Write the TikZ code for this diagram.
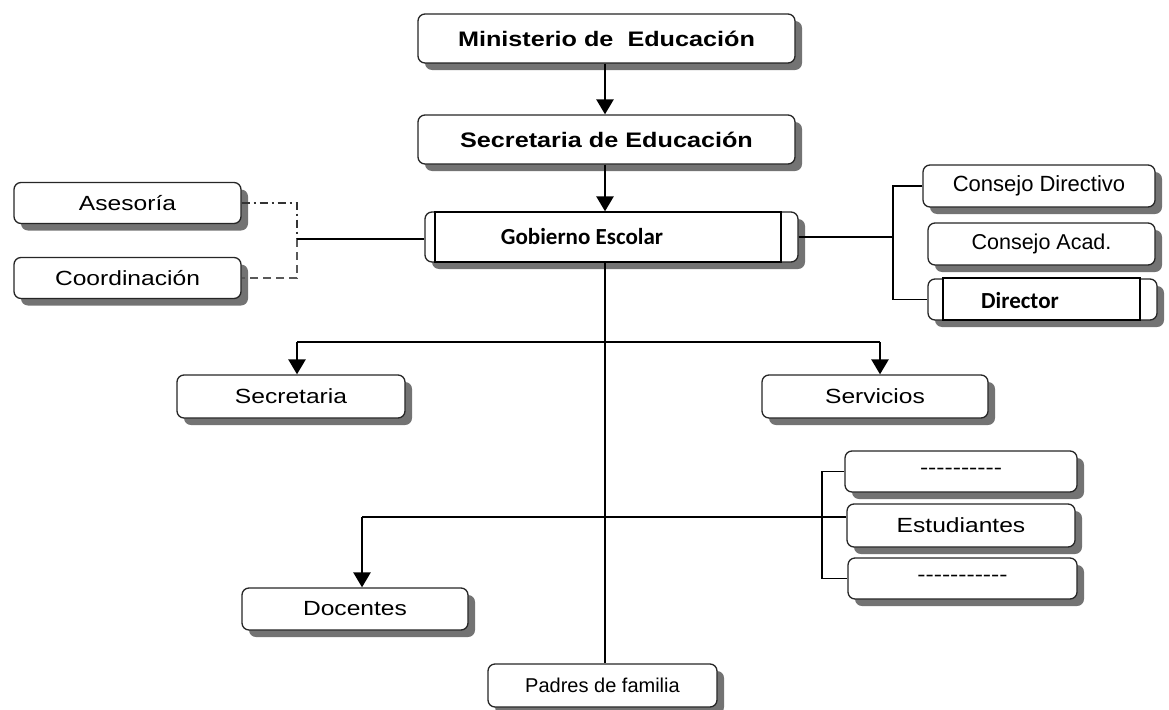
\documentclass[tikz,border=0pt]{standalone}
\usepackage{fontspec}
\setmainfont{Liberation Sans}
\newfontfamily\wide[FakeStretch=1.2]{Liberation Sans}
\newfontfamily\carl{Carlito}
\usetikzlibrary{shadows,arrows.meta}
\begin{document}
\begin{tikzpicture}[x=1pt,y=-1pt,
  box/.style={draw=black!85, line width=1.3pt, rounded corners=7pt, fill=white,
    drop shadow={shadow xshift=7pt, shadow yshift=-7pt, fill=black!55, opacity=1},
    inner sep=0pt, anchor=center},
  innerbox/.style={draw=black, line width=1.1pt, fill=white, inner sep=0pt},
  lbl/.style={font=\wide\fontsize{20.5}{22}\selectfont},
  toplbl/.style={font=\wide\bfseries\fontsize{21}{24}\selectfont},
  cal/.style={font=\carl\bfseries\fontsize{23}{26}\selectfont},
  conn/.style={line width=1.4pt, black},
  arr/.style={line width=2.6pt, black, -{Triangle[width=17pt,length=15pt]}},
]
\useasboundingbox (0,0) rectangle (1169,709);

% top chain
\node[box, toplbl, minimum width=377pt, minimum height=49pt] (min) at (606.5,38.5) {Ministerio de\ \ Educación};
\node[box, toplbl, minimum width=377pt, minimum height=49pt] (sec) at (606.5,139.5) {Secretaria de Educación};
\node[box, minimum width=373pt, minimum height=50pt] (gob) at (611.5,237) {};
\node[innerbox, minimum width=346pt, minimum height=50pt] (gobin) at (608,237) {};
\node[cal] (gobtxt) at (582,237) {Gobierno Escolar};

\draw[arr] (min.south -| 605,0) -- (sec.north -| 605,0);
\draw[arr] (sec.south -| 605,0) -- (gob.north -| 605,0);

% left side
\node[box, lbl, minimum width=227pt, minimum height=41pt] (ases) at (127.5,203) {Asesoría};
\node[box, lbl, minimum width=227pt, minimum height=41pt] (coord) at (127.5,278) {Coordinación};
\coordinate (lj) at (297,239);
\draw[line width=1.3pt, black!80, dash pattern=on 8pt off 4pt on 2pt off 4pt] (ases.east) -- (ases.east -| lj) -- (lj);
\draw[line width=1.5pt, black!65, dash pattern=on 8pt off 5pt] (lj) -- (coord.east -| lj) -- (coord.east);
\draw[conn] (lj) -- (gob.west |- lj);

% right side
\node[box, font=\fontsize{22}{24}\selectfont, minimum width=232pt, minimum height=42pt] (cdir) at (1039,186) {Consejo Directivo};
\node[box, font=\fontsize{21.5}{24}\selectfont, minimum width=227pt, minimum height=42pt] (cacad) at (1041.5,244) {Consejo Acad.};
\node[box, minimum width=229pt, minimum height=41pt] (dir) at (1042.5,299.5) {};
\node[innerbox, minimum width=197pt, minimum height=42pt] (dirin) at (1041.5,299) {};
\node[cal] (dirtxt) at (1020,301) {Director};
\coordinate (rj) at (893,237);
\draw[conn] (gob.east |- rj) -- (rj);
\draw[conn] (cdir.west) -- (cdir.west -| rj) -- (dir.west -| rj) -- (dir.west);

% middle level
\node[box, lbl, minimum width=228pt, minimum height=43pt] (secre) at (291,396.5) {Secretaria};
\node[box, lbl, minimum width=226pt, minimum height=43pt] (serv) at (875,396.5) {Servicios};
\coordinate (hl) at (297,342);
\coordinate (hr) at (880,342);
\draw[conn] (hl) -- (hr);
\draw[arr] (hl) -- (secre.north -| hl);
\draw[arr] (hr) -- (serv.north -| hr);

% students group
\node[box, lbl, minimum width=232pt, minimum height=41pt] (d1) at (961,471.5) {-{}-{}-{}-{}-{}-{}-{}-{}-{}-};
\node[box, lbl, minimum width=228pt, minimum height=43pt] (estu) at (961,525.5) {Estudiantes};
\node[box, lbl, minimum width=229pt, minimum height=41pt] (d2) at (962.5,578.5) {-{}-{}-{}-{}-{}-{}-{}-{}-{}-{}-};
\coordinate (sj) at (822,517);
\coordinate (ej) at (estu.west |- sj);
\draw[conn] (d1.west) -- (d1.west -| sj) -- (d2.west -| sj) -- (d2.west);
\coordinate (dj) at (362,517);
\draw[conn] (dj) -- (ej);

\node[box, lbl, minimum width=226pt, minimum height=42pt] (doc) at (355,609) {Docentes};
\draw[arr] (dj) -- (doc.north -| dj);

% trunk
\node[box, font=\fontsize{20}{22}\selectfont, minimum width=229pt, minimum height=43pt] (pad) at (602.5,685.5) {Padres de\ familia};
\draw[conn] (gob.south -| 605,0) -- (pad.north -| 605,0);
\end{tikzpicture}
\end{document}
